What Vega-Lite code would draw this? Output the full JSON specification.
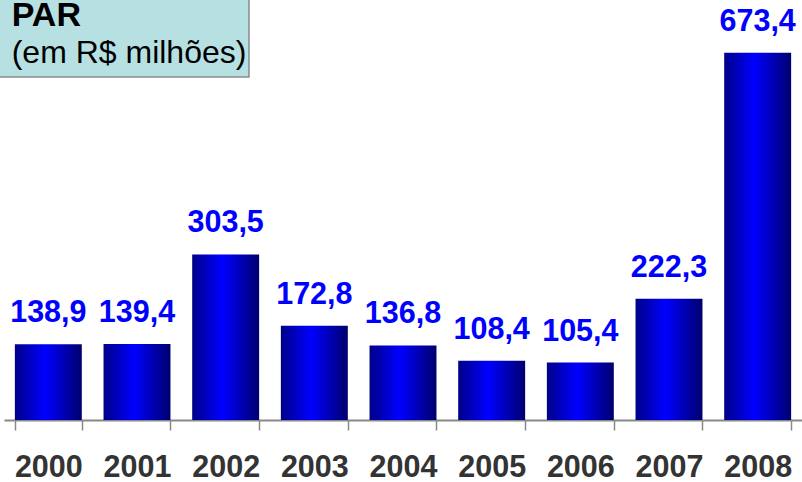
{
  "$schema": "https://vega.github.io/schema/vega-lite/v6.json",
  "width": 798,
  "height": 420,
  "autosize": {"type": "none"},
  "padding": {"left": 4, "top": 0, "right": 0, "bottom": 62},
  "background": "white",
  "config": {
    "view": {"stroke": null},
    "font": "Liberation Sans",
    "locale": {"number": {"decimal": ",", "thousands": ".", "grouping": [3], "currency": ["R$", ""]}}
  },
  "datasets": {
    "par": [
      {"ano": "2000", "valor": 138.9},
      {"ano": "2001", "valor": 139.4},
      {"ano": "2002", "valor": 303.5},
      {"ano": "2003", "valor": 172.8},
      {"ano": "2004", "valor": 136.8},
      {"ano": "2005", "valor": 108.4},
      {"ano": "2006", "valor": 105.4},
      {"ano": "2007", "valor": 222.3},
      {"ano": "2008", "valor": 673.4}
    ],
    "nota": [
      {"titulo": "PAR", "sub": "(em R$ milhões)", "x0": -0.06, "x1": 2.763, "y0": 629, "y1": 772}
    ]
  },
  "layer": [
    {
      "data": {"name": "par"},
      "encoding": {
        "x": {
          "field": "ano", "type": "nominal", "sort": null,
          "scale": {"paddingInner": 0.245, "paddingOuter": 0.1225},
          "axis": {
            "title": null, "labelAngle": 0, "labelFontSize": 30.5, "labelFontWeight": "bold",
            "labelColor": "#333333", "labelFont": "Liberation Sans",
            "domainColor": "#888888", "domainWidth": 2,
            "tickColor": "#888888", "tickWidth": 1.5, "tickSize": 10,
            "tickBand": "extent", "labelPadding": 22, "grid": false
          }
        },
        "y": {
          "field": "valor", "type": "quantitative",
          "scale": {"domain": [0, 770], "nice": false},
          "axis": null
        }
      },
      "layer": [
        {
          "mark": {
            "type": "bar",
            "color": {
              "gradient": "linear", "x1": 0, "x2": 1, "y1": 0, "y2": 0,
              "stops": [
                {"offset": 0, "color": "#000088"},
                {"offset": 0.45, "color": "#0000ff"},
                {"offset": 1, "color": "#00006e"}
              ]
            }
          }
        },
        {
          "mark": {
            "type": "text", "baseline": "alphabetic", "dy": -22,
            "fontSize": 30.5, "fontWeight": "bold", "color": "#0000ff", "font": "Liberation Sans"
          },
          "encoding": {
            "text": {"field": "valor", "type": "quantitative", "format": ".1f"}
          }
        }
      ]
    },
    {
      "data": {"name": "nota"},
      "encoding": {
        "x": {"field": "x0", "type": "quantitative", "scale": {"domain": [0, 9], "nice": false, "zero": false}, "axis": null},
        "y": {"field": "y1", "type": "quantitative", "axis": null}
      },
      "layer": [
        {
          "mark": {"type": "rect", "fill": "#b7e0e3", "stroke": "#8a8a8a", "strokeWidth": 1.5},
          "encoding": {
            "x2": {"field": "x1"},
            "y": {"field": "y0", "type": "quantitative", "axis": null},
            "y2": {"field": "y1"}
          }
        },
        {
          "mark": {"type": "text", "align": "left", "baseline": "alphabetic", "dx": 13, "dy": 27, "fontSize": 34, "fontWeight": "bold", "color": "#000000", "font": "Liberation Sans"},
          "encoding": {"text": {"field": "titulo"}}
        },
        {
          "mark": {"type": "text", "align": "left", "baseline": "alphabetic", "dx": 13, "dy": 64, "fontSize": 32, "color": "#000000", "font": "Liberation Sans"},
          "encoding": {"text": {"field": "sub"}}
        }
      ]
    }
  ],
  "resolve": {"scale": {"x": "independent"}}
}
